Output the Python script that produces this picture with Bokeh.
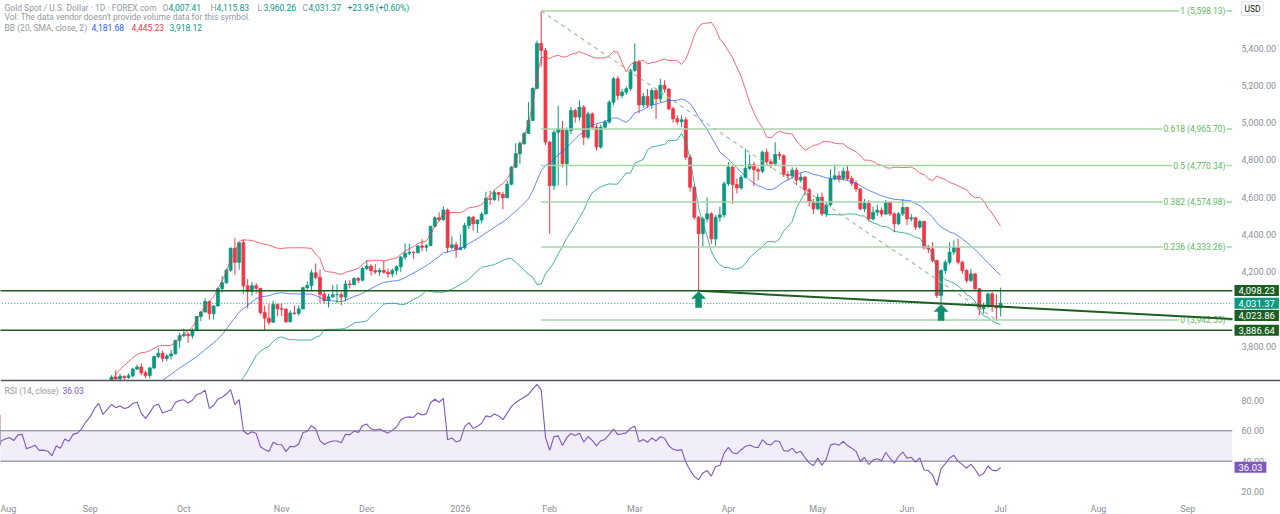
import numpy as np
import pandas as pd
from bokeh.plotting import figure
from bokeh.models import Range1d, FixedTicker, Span, Label, Arrow, ColumnDataSource
from bokeh.embed import file_html
from bokeh.resources import INLINE

# ---------------- data ----------------
holidays = ["2025-12-25", "2026-01-01", "2026-04-03"]

jul25_close = [3339, 3357, 3326, 3337, 3335, 3301, 3313, 3325, 3355, 3343, 3324, 3347, 3339, 3350, 3397, 3432, 3387, 3368, 3337, 3314, 3326, 3275, 3290]
jul25_high = [3358, 3365, 3366, 3342, 3345, 3345, 3317, 3330, 3368, 3375, 3366, 3377, 3350, 3361, 3401, 3440, 3439, 3393, 3373, 3345, 3334, 3334, 3315]
jul25_low = [3300, 3335, 3311, 3322, 3296, 3287, 3283, 3310, 3320, 3341, 3321, 3310, 3310, 3330, 3340, 3383, 3381, 3351, 3325, 3302, 3310, 3268, 3268]

aug25_close = [3363, 3373, 3381, 3369, 3396, 3398, 3342, 3348, 3356, 3335, 3336, 3332, 3315, 3347, 3339, 3372, 3365, 3393, 3397, 3416, 3448]
aug25_high = [3363, 3385, 3390, 3397, 3409, 3409, 3405, 3358, 3374, 3368, 3346, 3358, 3345, 3350, 3351, 3378, 3376, 3393, 3399, 3423, 3454]
aug25_low = [3281, 3346, 3355, 3361, 3358, 3380, 3341, 3331, 3345, 3330, 3324, 3322, 3312, 3311, 3325, 3322, 3350, 3351, 3376, 3386, 3405]

sep25_close = [3476, 3533, 3578, 3545, 3587, 3636, 3626, 3641, 3634, 3643, 3679, 3690, 3659, 3644, 3685, 3746, 3764, 3736, 3749, 3760, 3833, 3858]
sep25_high = [3490, 3540, 3578, 3565, 3600, 3646, 3674, 3655, 3640, 3655, 3685, 3703, 3708, 3670, 3690, 3749, 3791, 3778, 3760, 3782, 3835, 3872]
sep25_low = [3436, 3470, 3525, 3511, 3532, 3583, 3616, 3620, 3613, 3626, 3635, 3675, 3646, 3630, 3628, 3680, 3737, 3717, 3722, 3730, 3758, 3793]

oct25_close = [3866, 3857, 3886, 3961, 3985, 4041, 3976, 4017, 4110, 4142, 4209, 4327, 4251, 4356, 4125, 4095, 4126, 4112, 3982, 3952, 3930, 4025, 4002]
oct25_high = [3895, 3875, 3897, 3963, 3990, 4059, 4045, 4022, 4116, 4179, 4218, 4330, 4381, 4359, 4375, 4162, 4147, 4140, 4097, 4019, 4030, 4046, 4030]
oct25_low = [3850, 3820, 3842, 3885, 3937, 3982, 3944, 3945, 4020, 4090, 4135, 4200, 4185, 4212, 4082, 4004, 4073, 4084, 3971, 3886.64, 3915, 3928, 3963]

nov25_close = [4000, 3932, 3980, 3977, 4001, 4115, 4127, 4195, 4171, 4080, 4046, 4066, 4078, 4078, 4065, 4135, 4131, 4164, 4155, 4218]
nov25_high = [4030, 4006, 3993, 4020, 4020, 4120, 4148, 4212, 4245, 4212, 4100, 4083, 4130, 4133, 4091, 4154, 4156, 4172, 4173, 4225]
nov25_low = [3963, 3928, 3930, 3970, 3965, 4003, 4095, 4102, 4160, 4035, 4030, 4010, 4060, 4032, 4022, 4040, 4112, 4128, 4140, 4150]

dec25_close = [4231, 4206, 4199, 4208, 4198, 4189, 4208, 4228, 4279, 4300, 4305, 4303, 4339, 4332, 4340, 4444, 4490, 4480, 4532, 4331, 4345, 4319]
dec25_high = [4264, 4242, 4241, 4220, 4259, 4218, 4218, 4235, 4285, 4353, 4350, 4310, 4343, 4375, 4350, 4448, 4497, 4520, 4550, 4540, 4390, 4360]
dec25_low = [4210, 4180, 4188, 4180, 4190, 4170, 4170, 4185, 4200, 4265, 4290, 4270, 4300, 4310, 4310, 4343, 4440, 4470, 4475, 4302, 4320, 4275]

jan26_close = [4330, 4449, 4493, 4458, 4478, 4510, 4594, 4588, 4625, 4615, 4597, 4670, 4761, 4834, 4888, 4942, 5012, 5183, 5425, 5387, 4896]
jan26_high = [4402, 4463, 4500, 4500, 4480, 4520, 4630, 4635, 4640, 4628, 4630, 4690, 4768, 4890, 4900, 4950, 5110, 5190, 5440, 5598.13, 5400]
jan26_low = [4320, 4320, 4430, 4420, 4410, 4460, 4510, 4560, 4580, 4580, 4535, 4600, 4665, 4755, 4780, 4880, 4980, 5010, 5180, 5300, 4880]

feb26_close = [4663, 4949, 4967, 4780, 4958, 5065, 5030, 5083, 4922, 5047, 4976, 4869, 4976, 5003, 5110, 5235, 5146, 5164, 5182, 5280]
feb26_high = [4900, 4960, 5092, 5010, 4975, 5085, 5075, 5120, 5095, 5060, 5055, 4990, 4990, 5015, 5120, 5245, 5250, 5180, 5195, 5290]
feb26_low = [4404, 4640, 4663, 4760, 4663, 4940, 5000, 5010, 4880, 4910, 4960, 4850, 4860, 4965, 4995, 5095, 5120, 5130, 5150, 5170]

mar26_close = [5324, 5095, 5140, 5095, 5172, 5128, 5200, 5180, 5075, 5021, 5005, 5015, 4815, 4654, 4493, 4404, 4484, 4511, 4377, 4493, 4505, 4672]
mar26_high = [5425, 5335, 5160, 5180, 5185, 5185, 5235, 5227, 5185, 5085, 5040, 5040, 5030, 4830, 4665, 4500, 4495, 4600, 4520, 4505, 4550, 4685]
mar26_low = [5270, 5050, 5080, 5080, 5075, 5020, 5110, 5160, 5065, 5000, 4990, 4976, 4800, 4630, 4480, 4098.23, 4335, 4465, 4350, 4340, 4470, 4490]

apr26_close = [4762, 4668, 4650, 4708, 4755, 4775, 4748, 4740, 4842, 4790, 4780, 4830, 4822, 4722, 4715, 4745, 4692, 4708, 4640, 4575, 4538]
apr26_high = [4790, 4770, 4700, 4720, 4860, 4830, 4790, 4760, 4850, 4860, 4805, 4895, 4845, 4830, 4740, 4760, 4760, 4730, 4715, 4650, 4590]
apr26_low = [4660, 4565, 4620, 4640, 4700, 4745, 4660, 4690, 4730, 4780, 4755, 4770, 4800, 4710, 4690, 4700, 4665, 4680, 4610, 4550, 4510]

may26_close = [4600, 4511, 4560, 4699, 4715, 4700, 4740, 4700, 4675, 4645, 4538, 4568, 4484, 4520, 4530, 4510, 4574, 4511, 4458, 4511, 4545]
may26_high = [4620, 4625, 4575, 4750, 4775, 4740, 4760, 4770, 4715, 4690, 4650, 4590, 4585, 4550, 4560, 4545, 4585, 4580, 4520, 4520, 4592]
may26_low = [4530, 4500, 4495, 4550, 4690, 4680, 4690, 4690, 4660, 4630, 4530, 4520, 4470, 4475, 4500, 4495, 4505, 4500, 4412, 4450, 4500]

jun26_close = [4484, 4490, 4440, 4470, 4330, 4323, 4261, 4073, 4207, 4252, 4306, 4332, 4252, 4207, 4154, 4189, 4109, 4002, 4020, 4082, 4020, 4007.42]
jun26_high = [4550, 4510, 4495, 4480, 4475, 4345, 4359, 4265, 4215, 4265, 4359, 4368, 4377, 4260, 4215, 4215, 4195, 4115, 4035, 4090, 4092, 4080]
jun26_low = [4450, 4470, 4425, 4430, 4320, 4300, 4250, 4060, 4029, 4190, 4240, 4290, 4240, 4190, 4140, 4145, 4100, 3966, 3975, 4005, 3985, 3942.55]

jul26_close = [4031.37]
jul26_high = [4115.83]
jul26_low = [3960.26]
last_open = 4007.41
first_open = 3303

month_labels = ["Aug", "Sep", "Oct", "Nov", "Dec", "2026", "Feb", "Mar", "Apr", "May", "Jun", "Jul", "Aug", "Sep"]
price_ticks = [3800, 4000, 4200, 4400, 4600, 4800, 5000, 5200, 5400]
rsi_ticks = [20, 40, 60, 80]
rsi_bands = [40, 60]

fib_levels = [5598.13, 4965.70, 4770.34, 4574.98, 4333.26, 3942.55]
fib_texts = ["1 (5,598.13)", "0.618 (4,965.70)", "0.5 (4,770.34)", "0.382 (4,574.98)", "0.236 (4,333.26)", "0 (3,942.55)"]
fib_anchor_dates = ["2026-01-29", "2026-06-30"]

hline_levels = [4098.23, 3886.64]
current_price = 4031.37
trend_start = ("2026-03-23", 4098.23)
trend_end_price = 3948.0
trend_label = "4,023.86"
arrow_dates = ["2026-03-23", "2026-06-11"]

legend_ohlc = ["4,007.41", "4,115.83", "3,960.26", "4,031.37"]
legend_change = "+23.95 (+0.60%)"
bb_values = ["4,181.68", "4,445.23", "3,918.12"]
rsi_value_text = "36.03"
rsi_value = 36.03

# ---------------- assemble ----------------
closes = (jul25_close + aug25_close + sep25_close + oct25_close + nov25_close + dec25_close +
          jan26_close + feb26_close + mar26_close + apr26_close + may26_close + jun26_close + jul26_close)
highs = (jul25_high + aug25_high + sep25_high + oct25_high + nov25_high + dec25_high +
         jan26_high + feb26_high + mar26_high + apr26_high + may26_high + jun26_high + jul26_high)
lows = (jul25_low + aug25_low + sep25_low + oct25_low + nov25_low + dec25_low +
        jan26_low + feb26_low + mar26_low + apr26_low + may26_low + jun26_low + jul26_low)

all_days = [d for d in pd.bdate_range("2025-07-01", "2026-09-30") if d.strftime("%Y-%m-%d") not in holidays]
hist_days = [d for d in all_days if d <= pd.Timestamp("2026-07-01")]
n = min(len(hist_days), len(closes))
closes = np.array(closes[:n], dtype=float)
highs = np.array(highs[:n], dtype=float)
lows = np.array(lows[:n], dtype=float)
opens = np.concatenate([[first_open], closes[:-1]])
opens[-1] = last_open
highs = np.maximum(highs, np.maximum(opens, closes))
lows = np.minimum(lows, np.minimum(opens, closes))

origin = hist_days.index(pd.Timestamp("2025-08-01"))
day_index = {d.strftime("%Y-%m-%d"): i - origin for i, d in enumerate(all_days)}
xs = np.arange(n) - origin

month_ticks = []
prev = None
for i, d in enumerate(all_days):
    key = (d.year, d.month)
    if key != prev:
        prev = key
        if i - origin >= 0:
            month_ticks.append(i - origin)
month_ticks = month_ticks[:len(month_labels)]

# Bollinger Bands (20, 2)
s = pd.Series(closes)
bb_mid = s.rolling(20).mean().to_numpy()
bb_sd = s.rolling(20).std(ddof=0).to_numpy()
bb_up = bb_mid + 2 * bb_sd
bb_dn = bb_mid - 2 * bb_sd

# RSI 14 (Wilder)
delta = np.diff(closes)
gain = np.where(delta > 0, delta, 0.0)
loss = np.where(delta < 0, -delta, 0.0)
rsi = np.full(n, np.nan)
ag = gain[:14].mean()
al = loss[:14].mean()
rsi[14] = 100 - 100 / (1 + ag / al) if al > 0 else 100
for i in range(15, n):
    ag = (ag * 13 + gain[i - 1]) / 14
    al = (al * 13 + loss[i - 1]) / 14
    rsi[i] = 100 - 100 / (1 + ag / al) if al > 0 else 100

# ---------------- figure ----------------
FONT = "Roboto"
UP = "#089981"
DOWN = "#f23645"
DARKG = "#1b5e20"
ARROWC = "#0e8f70"
X0 = -0.1
PX_PER_BAR = 1232.0 / 289.6          # reference pixels per bar
X1 = X0 + 1232.0 / PX_PER_BAR          # right edge of the price area
XF = X0 + 1280.0 / PX_PER_BAR          # right edge of the whole frame (incl. scale)
Y0, Y1 = 2990.3, 5655.0
PRICE_PER_PX = (Y1 - Y0) / 497.0
R0, R1 = 16.1, 343.1
PANE_SPLIT = 3617.7


def rx(px):
    return X0 + px / PX_PER_BAR


def ry(py):
    return Y1 - py * PRICE_PER_PX


def rsi_to_price(r):
    return Y0 + (r - R0) / (R1 - R0) * (Y1 - Y0)


p = figure(frame_width=1280, frame_height=497, x_range=Range1d(X0, XF), y_range=Range1d(Y0, Y1),
           y_axis_location=None, output_backend="svg", toolbar_location=None,
           min_border_left=0, min_border_top=0, min_border_right=0, min_border_bottom=17,
           background_fill_color="white", border_fill_color="white")
p.extra_y_ranges = {"rsi": Range1d(R0, R1)}
p.grid.visible = False
p.outline_line_color = None

# candles
color = np.where(closes >= opens, UP, DOWN)
src = ColumnDataSource(dict(x=xs, h=highs, l=lows, top=np.maximum(opens, closes),
                            bot=np.minimum(opens, closes), color=color))
p.segment(x0="x", y0="l", x1="x", y1="h", line_color="color", line_width=1, source=src)
p.vbar(x="x", width=0.68, top="top", bottom="bot", fill_color="color", line_color="color",
       line_width=0.8, source=src)

# Bollinger bands
p.line(xs, bb_mid, line_color="#2962ff", line_width=1, line_alpha=0.75)
p.line(xs, bb_up, line_color=DOWN, line_width=1, line_alpha=0.75)
p.line(xs, bb_dn, line_color=UP, line_width=1, line_alpha=0.75)

# fib retracement
fx0 = day_index[fib_anchor_dates[0]]
fx1 = day_index[fib_anchor_dates[1]]
p.segment(x0=[fx0] * len(fib_levels), x1=[X1] * len(fib_levels), y0=fib_levels, y1=fib_levels,
          line_color="#a5d6a7", line_width=1.5)
p.line([fx0, fx1], [fib_levels[0], fib_levels[-1]], line_color="#9fbfa1", line_width=1.2,
       line_dash="4 4")

# horizontal lines and current price line
p.segment(x0=[X0 - 1] * 2, x1=[X1] * 2, y0=hline_levels, y1=hline_levels,
          line_color=DARKG, line_width=1.5)
p.segment(x0=[X0 - 1], x1=[X1], y0=[current_price], y1=[current_price],
          line_color=UP, line_width=1, line_dash="1 2")

# up-arrow drawings (shape in pixels, converted to data units)
arrow_tip_px = [291, 304]
head_w, head_h, stem_w, total_h = 7.0, 7.0, 3.0, 16.0
axs, ays = [], []
for d, tip_px in zip(arrow_dates, arrow_tip_px):
    xa = day_index[d]
    shape = [(0, 0), (head_w, head_h), (stem_w, head_h), (stem_w, total_h),
             (-stem_w, total_h), (-stem_w, head_h), (-head_w, head_h)]
    axs.append([xa + sx / PX_PER_BAR for sx, sy in shape])
    ays.append([ry(tip_px + sy) for sx, sy in shape])
p.patches(axs, ays, fill_color=ARROWC, line_color=ARROWC, line_width=0.5)

# cover for RSI pane
p.quad(left=-10, right=XF + 10, bottom=Y0, top=PANE_SPLIT, fill_color="white", line_color=None)

# RSI pane
p.quad(left=-10, right=X1, bottom=rsi_bands[0], top=rsi_bands[1], fill_color="#7e57c2",
       fill_alpha=0.1, line_color=None, y_range_name="rsi")
p.segment(x0=[-10, -10], x1=[X1, X1], y0=rsi_bands, y1=rsi_bands, line_color="#787b86",
          line_width=1, y_range_name="rsi")
ok = ~np.isnan(rsi)
p.line(xs[ok], rsi[ok], line_color="#7e57c2", line_width=1.1, y_range_name="rsi")

# price scale area
p.quad(left=X1, right=XF + 10, bottom=Y0, top=Y1 + 100, fill_color="white", line_color=None)

# separator
p.add_layout(Span(location=PANE_SPLIT, dimension="width", line_color="#50535e", line_width=1.5))

# x axis (months)
p.xaxis.ticker = FixedTicker(ticks=month_ticks)
p.xaxis.major_label_overrides = {t: lab for t, lab in zip(month_ticks, month_labels)}
p.xaxis.axis_line_color = None
p.xaxis.major_tick_line_color = None
p.xaxis.minor_tick_line_color = None
p.xaxis.major_label_text_color = "#8d909a"
p.xaxis.major_label_text_font_size = "9px"
p.xaxis.major_label_text_font = FONT
p.xaxis.major_label_standoff = 0


def add_text(x, y, text, color, size="8.5px", align="left", bg=None, border=None, pad=0):
    kw = {}
    if bg is not None:
        kw.update(background_fill_color=bg, background_fill_alpha=1.0)
    if border is not None:
        kw.update(border_line_color=border, border_line_alpha=1.0)
    p.add_layout(Label(x=x, y=y, text=text, text_color=color, text_font_size=size,
                       text_font=FONT, text_align=align, text_baseline="middle",
                       padding=pad, **kw))


# price scale labels
AXC = "#8d909a"
for t in price_ticks:
    add_text(rx(1241), t, f"{t:,.2f}", AXC, size="9px")
for r in rsi_ticks:
    add_text(rx(1241), rsi_to_price(r), f"{r:.2f}", AXC, size="9px")

# fib labels
for lv, t in zip(fib_levels, fib_texts):
    add_text(rx(1226), lv, t, "#5cb860", size="8.5px", align="right", bg="white", pad=1)

# trendline (drawn above labels)
tx0 = day_index[trend_start[0]]
p.add_layout(Arrow(start=None, end=None, x_start=tx0, y_start=trend_start[1], x_end=X1,
                   y_end=trend_end_price, line_color=DARKG, line_width=2))

# legends
GREY = "#9598a1"
add_text(rx(4), ry(7), "Gold Spot / U.S. Dollar · 1D · FOREX.com", GREY)
for lt, xv, val in zip(["O", "H", "L", "C"], [162, 210, 257, 302], legend_ohlc):
    add_text(rx(xv), ry(7), lt, GREY)
    add_text(rx(xv + 6), ry(7), val, UP)
add_text(rx(347), ry(7), legend_change, UP)
add_text(rx(4), ry(16), "Vol: The data vendor doesn't provide volume data for this symbol.", GREY)
add_text(rx(4), ry(27), "BB (20, SMA, close, 2)", GREY)
for xv, val, col in zip([91, 131, 169], bb_values, ["#2962ff", DOWN, UP]):
    add_text(rx(xv), ry(27), val, col)
add_text(rx(4), ry(390), "RSI (14, close)", GREY)
add_text(rx(62), ry(390), rsi_value_text, "#7e57c2")

# right-side price boxes
bx = rx(1234)
BOXPAD = (4, 2)
add_text(bx, ry(290), f"{hline_levels[0]:,.2f}", "white", size="9.5px", bg=DARKG, pad=BOXPAD)
add_text(bx, current_price, f"{current_price:,.2f}", "white", size="9.5px", bg=UP, pad=BOXPAD)
add_text(bx, ry(315), trend_label, "white", size="9.5px", bg=DARKG, pad=BOXPAD)
add_text(bx, hline_levels[1], f"{hline_levels[1]:,.2f}", "white", size="9.5px", bg=DARKG, pad=BOXPAD)
add_text(bx, rsi_to_price(rsi_value), rsi_value_text, "white", size="9.5px", bg="#7e57c2", pad=BOXPAD)
add_text(rx(1241), ry(8), "USD", "#131722", size="8.5px", bg="white", border="#e0e3eb", pad=(3, 2))

open("out.html", "w").write(file_html(p, INLINE))
